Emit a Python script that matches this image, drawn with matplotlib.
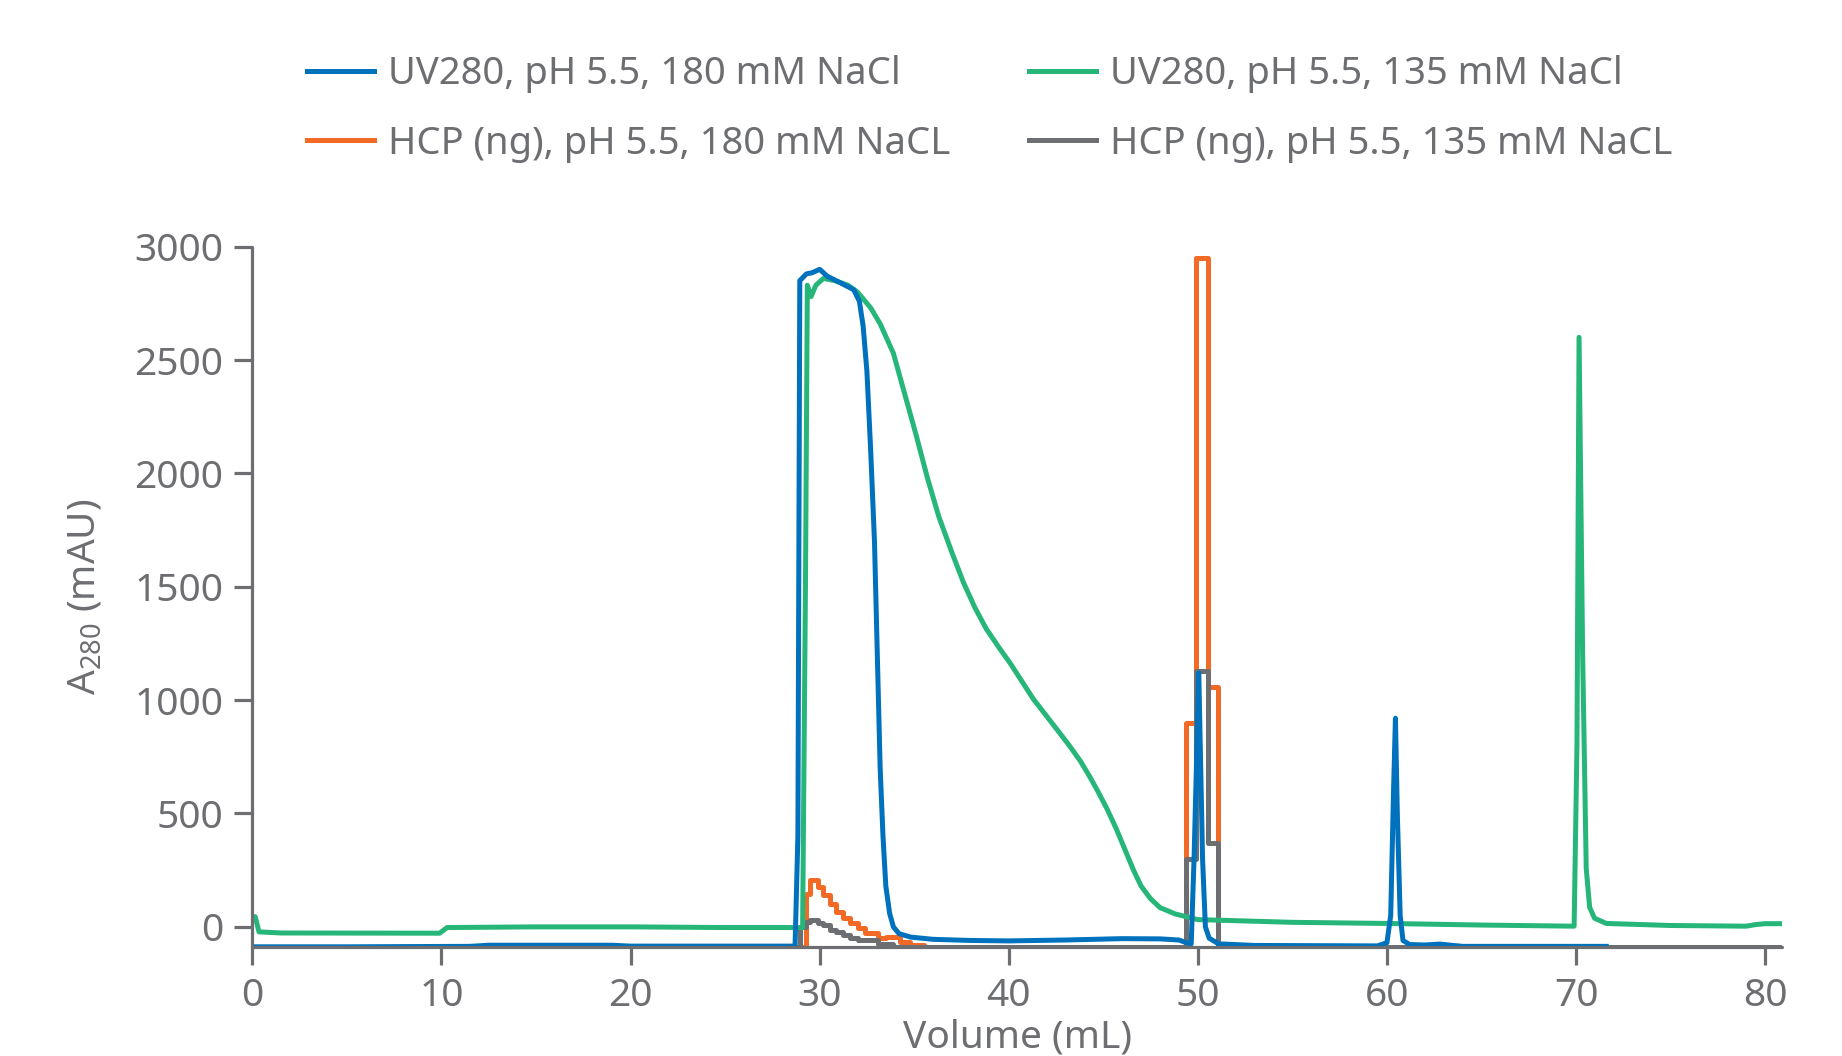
import numpy as np
import matplotlib
matplotlib.use('Agg')
import matplotlib.pyplot as plt

plt.rcParams['font.family'] = ['Noto Sans', 'DejaVu Sans']
plt.rcParams['mathtext.default'] = 'regular'

# UV280, pH 5.5, 180 mM NaCl
uv180_x = [0, 5, 11.5, 12.5, 19, 20, 28.7, 28.85, 28.95, 29.3, 29.6, 30.0, 30.4, 31.0, 31.8,
           32.1, 32.3, 32.5, 32.7, 32.9, 33.05, 33.2, 33.35, 33.5, 33.7, 33.9, 34.2, 34.8, 36,
           38, 40, 43, 46, 48, 49.0, 49.4, 49.65, 49.8, 50.05, 50.25, 50.4, 50.6, 51.1, 53,
           59.5, 60.0, 60.2, 60.35, 60.45, 60.55, 60.7, 60.85, 61.2, 62, 62.8, 63.5, 64, 71.6]
uv180_y = [-88, -88, -86, -81, -81, -85, -85, 400, 2850, 2880, 2885, 2900, 2870, 2845, 2810,
           2760, 2650, 2450, 2100, 1700, 1200, 700, 400, 180, 60, 0, -30, -45, -55,
           -60, -62, -58, -52, -53, -58, -70, -75, 300, 1120, 300, 0, -50, -75, -82,
           -84, -70, 50, 600, 920, 500, 50, -60, -78, -80, -76, -82, -86, -86]

# UV280, pH 5.5, 135 mM NaCl
uv135_x = [0, 0.15, 0.35, 1.5, 9.9, 10.3, 15, 20, 25, 29.1, 29.25, 29.35, 29.55, 29.8, 30.2,
           30.8, 31.5, 32.0, 32.7, 33.2, 33.9, 34.5, 35.1, 35.7, 36.3, 37.0, 37.6, 38.2, 38.8,
           39.5, 40.1, 41.3, 42.5, 43.2, 43.8, 44.3, 44.7, 45.2, 45.7, 46.2, 46.6, 47.0, 47.5,
           48.0, 48.8, 50, 55, 60, 65, 69.9, 70.05, 70.16, 70.35, 70.54, 70.72, 70.98, 71.6,
           75, 79, 79.5, 80, 80.9]
uv135_y = [40, 45, -22, -27, -28, -3, 0, 0, -3, -3, 1500, 2830, 2780, 2830, 2860,
           2850, 2830, 2800, 2730, 2660, 2530, 2350, 2170, 1980, 1810, 1650, 1520, 1410, 1316,
           1230, 1160, 1005, 876, 800, 730, 660, 600, 520, 430, 330, 250, 180, 124,
           85, 57, 32, 20, 15, 8, 3, 800, 2600, 1200, 257, 86, 38, 15,
           6, 3, 10, 14, 14]

# HCP (ng), pH 5.5, 180 mM NaCL  (fraction steps)
hcp180_x = [0, 29.30, 29.51, 29.91, 30.18, 30.53, 30.88, 31.24, 31.59, 32.03, 32.38, 33.09,
            33.53, 34.24, 34.76, 35.5, 49.39, 49.92, 50.53, 51.06, 60]
hcp180_y = [-88, 147, 206, 176, 140, 103, 66, 37, 15, -7, -29, -51,
            -44, -66, -78, -88, 900, 2950, 1060, -88, -88]

# HCP (ng), pH 5.5, 135 mM NaCL
hcp135_x = [0, 28.95, 29.30, 29.51, 29.91, 30.18, 30.53, 30.88, 31.24, 31.59, 32.03, 33.09,
            33.9, 49.39, 49.92, 50.53, 51.06, 80.9]
hcp135_y = [-88, 0, 22, 29, 15, 7, -15, -22, -37, -47, -59, -74,
            -88, 300, 1130, 370, -88, -88]

BLUE = '#0071bc'
GREEN = '#27b67a'
ORANGE = '#f26a26'
GRAY = '#6d6e71'

fig = plt.figure(figsize=(18.42, 10.56), dpi=100)
ax = fig.add_axes([0.137, 0.1034, 0.8305, 0.663])

lw = 3.6
l_or, = ax.plot(hcp180_x, hcp180_y, color=ORANGE, lw=lw, drawstyle='steps-post',
                label='HCP (ng), pH 5.5, 180 mM NaCL')
l_gr, = ax.plot(hcp135_x, hcp135_y, color=GRAY, lw=lw, drawstyle='steps-post',
                label='HCP (ng), pH 5.5, 135 mM NaCL')
l_gn, = ax.plot(uv135_x, uv135_y, color=GREEN, lw=lw, label='UV280, pH 5.5, 135 mM NaCl')
l_bl, = ax.plot(uv180_x, uv180_y, color=BLUE, lw=lw, label='UV280, pH 5.5, 180 mM NaCl')

ax.set_xlim(0, 80.9)
ax.set_ylim(-88, 3000)
ax.set_xticks(np.arange(0, 81, 10))
ax.set_yticks(np.arange(0, 3001, 500))

for s in ['top', 'right']:
    ax.spines[s].set_visible(False)
for s in ['left', 'bottom']:
    ax.spines[s].set_color(GRAY)
    ax.spines[s].set_linewidth(2.3)
    ax.spines[s].set_capstyle('round')

ax.tick_params(axis='both', colors=GRAY, labelcolor=GRAY, labelsize=28, width=2.3, length=13)
ax.tick_params(axis='x', pad=9)
ax.tick_params(axis='y', pad=8)

ax.set_xlabel('Volume (mL)', fontsize=28, color=GRAY, labelpad=2)
ax.set_ylabel('A$_{280}$ (mAU)', fontsize=28, color=GRAY, labelpad=22)

fig.legend(handles=[l_bl, l_or, l_gn, l_gr], ncol=2, frameon=False,
           loc='upper left', bbox_to_anchor=(0.148, 0.98),
           fontsize=27.5, labelcolor=GRAY, handlelength=1.75, handletextpad=0.38,
           columnspacing=2.05, labelspacing=0.82)

fig.savefig('out.png', dpi=100)
